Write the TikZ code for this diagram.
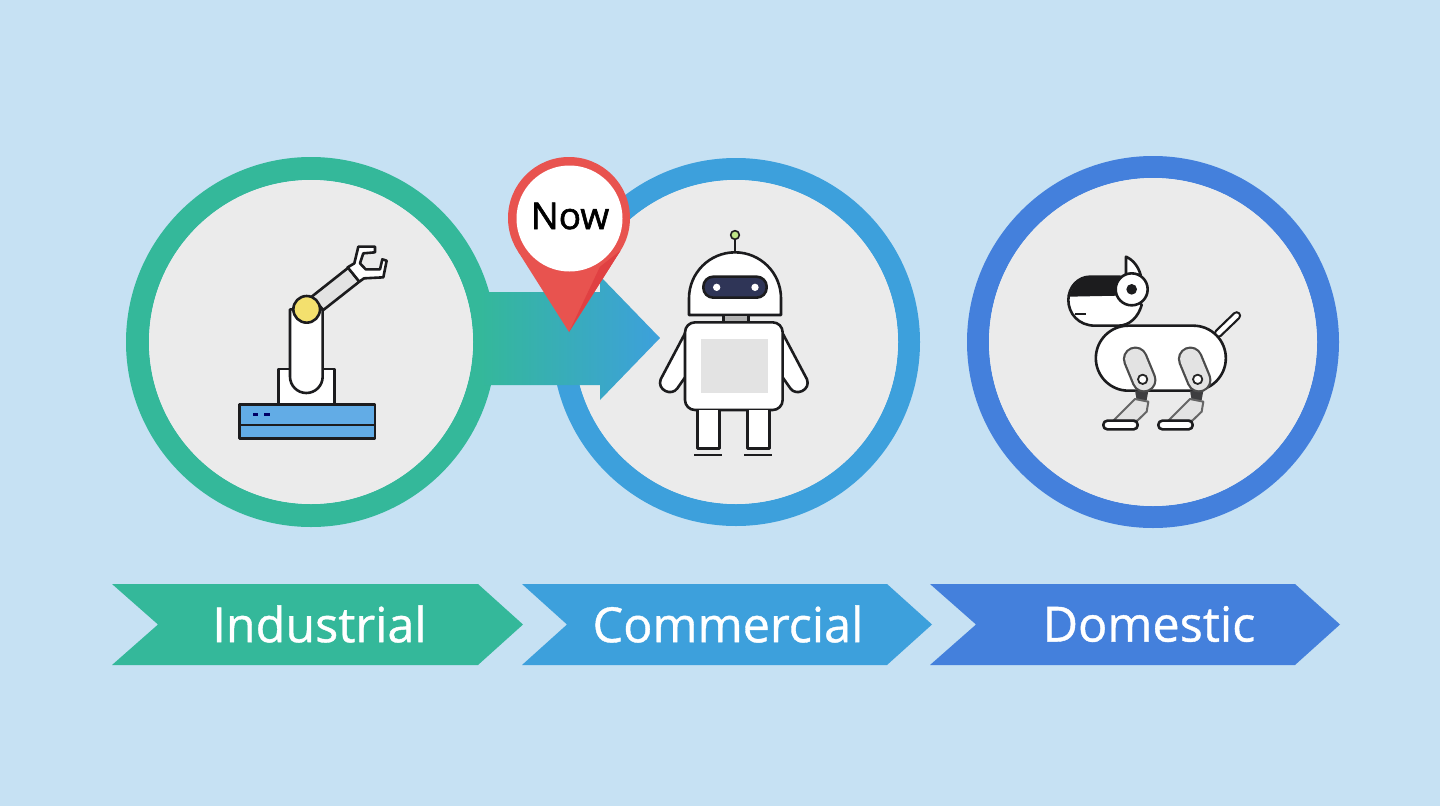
\documentclass[tikz,border=0pt]{standalone}
\usepackage{fontspec}
\setmainfont{Open Sans}
\newfontfamily\boldishfont[FakeBold=1.6]{Open Sans}
\newfontfamily\labelfont[FakeBold=0.8]{Open Sans}
\definecolor{skybg}{RGB}{198,225,243}
\definecolor{discgray}{RGB}{235,235,235}
\definecolor{greenring}{RGB}{52,184,154}
\definecolor{bluering}{RGB}{61,160,220}
\definecolor{navyring}{RGB}{68,128,220}
\definecolor{pinred}{RGB}{232,83,79}
\definecolor{pindark}{RGB}{224,64,66}
\definecolor{partblue}{RGB}{98,172,230}
\definecolor{inkline}{RGB}{28,28,30}
\definecolor{jointyellow}{RGB}{243,224,110}
\definecolor{visornavy}{RGB}{47,53,87}
\tikzset{
	part/.style={draw=inkline,line width=2.6pt,line join=round,fill=white},
	label/.style={text=white,font=\labelfont\fontsize{48.5}{48.5}\selectfont,inner sep=0pt}
}
\begin{document}
\begin{tikzpicture}[x=1pt,y=-1pt]
	\useasboundingbox (0,0) rectangle (1440,806);
	\fill[skybg] (0,0) rectangle (1440,806);
	% rings
	\foreach \cx/\ro/\ri/\col in {311/185/162/greenring,736/184/162/bluering,1153/186/164/navyring}
		\draw[fill=\col,draw=none,even odd rule] (\cx,342) circle[radius=\ro] (\cx,342) circle[radius=\ri];
	\foreach \cx/\ri in {311/162,736/162,1153/164}
		\fill[discgray] (\cx,342) circle[radius=\ri];
	% arrow between the first two rings
	\shade[left color=greenring,right color=bluering]
		(480,292) -- (600,292) -- (600,276) -- (660,338) -- (600,400) -- (600,385) -- (480,385) -- cycle;
	% pin
	\fill[pinred] (569,218) circle[radius=61];
	\fill[pinred] (569,332) -- (620.5,250.6) -- (517.5,250.6) -- cycle;
	\fill[pindark] (569,332) -- (620.5,250.6) -- (600,266.7) -- cycle;
	\fill[white] (569.5,218.5) circle[radius=53];
	\node[font=\boldishfont\fontsize{37}{37}\selectfont,text=black,inner sep=0pt] (now) at (570,216) {Now};
	% chevrons
	\fill[greenring] (112,584) -- (478,584) -- (523,624.5) -- (478,665) -- (112,665) -- (158,624.5) -- cycle;
	\fill[bluering] (522,584) -- (887,584) -- (932,624.5) -- (887,665) -- (522,665) -- (567,624.5) -- cycle;
	\fill[navyring] (930,584) -- (1295,584) -- (1340,624.5) -- (1295,665) -- (930,665) -- (976,624.5) -- cycle;
	\node[label] (industrial) at (319.5,624) {Industrial};
	\node[label] (commercial) at (728,624) {Commercial};
	\node[label] (domestic) at (1149,624) {Domestic};
	% robot arm
	\begin{scope}[shift={(220,230)},scale=1/3]
		\draw[part,fill=gray!22] (275,200) -- (385,113) -- (418,155) -- (310,240) -- cycle;
		\draw[part] (383,112) -- (403,100) -- (415,50) -- (465,50) -- (465,67) -- (430,70) -- (420,100) -- (437,118)
			-- (480,118) -- (487,88) -- (500,92) -- (490,142) -- (432,145) -- (418,155) -- cycle;
		\draw[part] (175,523) -- (175,417) -- (343,417) -- (343,523);
		\draw[part] (210,238) -- (210,440) arc[start angle=180,end angle=0,radius=49] -- (308,238) -- cycle;
		\draw[part,fill=partblue] (58,523) rectangle (465,625);
		\draw[inkline,line width=2.6pt] (58,585) -- (465,585);
		\foreach \a/\b in {100/115,133/150}
			\draw[blue!40!black,line width=2.6pt] (\a,553) -- (\b,553);
		\draw[part,fill=jointyellow] (260,238) circle[radius=40];
	\end{scope}
	% robot
	\begin{scope}[shift={(640,220)},scale=1/3]
		\draw[inkline,line width=2pt] (285,45) -- (285,97);
		\draw[part,line width=1.6pt,fill=yellow!50!green!50!white] (285,45) circle[radius=13];
		\draw[part] (147,285) -- (147,235) arc[start angle=180,end angle=360,radius=138] -- (423,285) -- cycle;
		\draw[part,fill=visornavy,rounded corners=10pt] (190,170) rectangle (380,233);
		\foreach \x in {230,345}
			\fill[white] (\x,202) circle[radius=11];
		\draw[part,fill=gray!60] (250,285) rectangle (325,307);
		\draw[part] (135,340) -- (62,478) .. controls (50,510) and (95,530) .. (112,505) -- (140,465) -- cycle;
		\draw[part] (428,340) -- (501,478) .. controls (513,510) and (468,530) .. (451,505) -- (423,465) -- cycle;
		\draw[part,rounded corners=10pt] (135,307) rectangle (428,570);
		\fill[gray!22] (182,358) rectangle (385,520);
		\foreach \x in {172,322} {
			\draw[part] (\x,570) -- (\x,685) -- (\x+66,685) -- (\x+66,570);
		}
		\foreach \x in {162,313}
			\draw[inkline,line width=2.6pt] (\x,705) -- (\x+84,705);
	\end{scope}
	% dog
	\begin{scope}[shift={(1050,245)},scale=1/3]
		\draw[inkline,line width=9pt,line cap=round] (505,265) -- (560,212);
		\draw[white,line width=4.5pt,line cap=round] (505,265) -- (560,212);
		\draw[part] (235,242) -- (430,242) arc[start angle=-90,end angle=90,radius=97.5] -- (235,437)
			arc[start angle=90,end angle=270,radius=97.5] -- cycle;
		\foreach \dx in {0,165} {
			\fill[inkline!85!white] (255+\dx,437) -- (295+\dx,437) -- (290+\dx,465) -- (260+\dx,465) -- cycle;
			\draw[part,draw=gray!80!black,line width=2pt,fill=gray!22] (255+\dx,462) -- (295+\dx,470) -- (290+\dx,500) -- (262+\dx,527) -- (190+\dx,527) -- cycle;
			\draw[gray!60!black,line width=25pt,line cap=round] (256+\dx,342) -- (282+\dx,405);
			\draw[gray!22,line width=20.5pt,line cap=round] (256+\dx,342) -- (282+\dx,405);
			\draw[part,draw=gray!30!black,line width=1.8pt] (278+\dx,403) circle[radius=14];
			\draw[part,rounded corners=4pt] (160+\dx,527) rectangle (263+\dx,553);
		}
		\draw[part] (120,95) -- (210,95) -- (275,180) .. controls (265,215) and (240,242) .. (205,242) -- (135,242)
			.. controls (85,242) and (55,205) .. (55,165) .. controls (55,125) and (85,95) .. (120,95) -- cycle;
		\fill[inkline] (58,155) .. controls (65,120) and (90,97) .. (120,97) -- (210,97) -- (205,152) -- cycle;
		\draw[inkline,line width=2.2pt] (75,207) -- (108,207);
		\draw[part] (228,88) -- (228,35) .. controls (250,45) and (265,65) .. (272,90) -- cycle;
		\draw[part] (245,133) circle[radius=48];
		\fill[inkline] (245,133) circle[radius=16];
	\end{scope}
\end{tikzpicture}
\end{document}
